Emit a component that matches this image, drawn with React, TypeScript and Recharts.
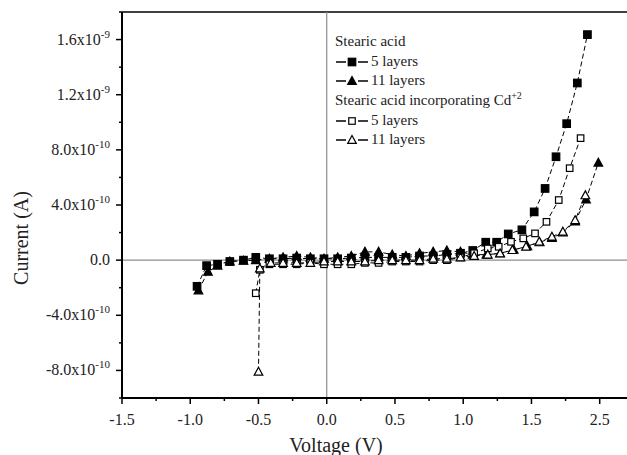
import { LineChart, Line, XAxis, YAxis, ReferenceLine, Legend } from 'recharts';

// current values are in units of 1e-10 A
const stearic5Voltage = [-0.95, -0.88, -0.8, -0.71, -0.61, -0.52, -0.42, -0.32, -0.22, -0.12, -0.02, 0.08, 0.18, 0.28, 0.38, 0.48, 0.58, 0.68, 0.78, 0.88, 0.98, 1.07, 1.165, 1.245, 1.33, 1.43, 1.52, 1.6, 1.68, 1.758, 1.836, 1.91];
const stearic5Current = [-1.9, -0.4, -0.3, -0.1, 0.0, 0.2, 0.1, 0.1, 0.15, 0.1, 0.1, 0.1, 0.15, 0.2, 0.2, 0.2, 0.2, 0.3, 0.3, 0.4, 0.5, 0.7, 1.3, 1.3, 1.9, 2.2, 3.5, 5.2, 7.5, 9.9, 12.85, 16.36];

const stearic11Voltage = [-0.94, -0.87, -0.8, -0.71, -0.61, -0.52, -0.42, -0.32, -0.22, -0.12, -0.02, 0.08, 0.18, 0.28, 0.38, 0.48, 0.58, 0.68, 0.78, 0.88, 0.98, 1.07, 1.17, 1.27, 1.37, 1.47, 1.56, 1.65, 1.73, 1.82, 1.9, 1.99];
const stearic11Current = [-2.2, -0.85, -0.4, -0.1, -0.05, 0.0, 0.1, 0.2, 0.3, 0.2, 0.1, 0.2, 0.3, 0.6, 0.6, 0.4, 0.3, 0.5, 0.6, 0.7, 0.6, 0.4, 0.4, 0.5, 0.75, 1.0, 1.3, 1.6, 2.0, 2.8, 4.4, 7.07];

const cd5Voltage = [-0.52, -0.49, -0.42, -0.32, -0.22, -0.12, -0.02, 0.08, 0.18, 0.28, 0.38, 0.48, 0.58, 0.68, 0.78, 0.88, 0.98, 1.08, 1.18, 1.26, 1.35, 1.44, 1.526, 1.61, 1.7, 1.78, 1.86];
const cd5Current = [-2.4, -0.7, -0.3, -0.3, -0.3, -0.2, -0.3, -0.3, -0.3, -0.2, -0.2, -0.1, -0.1, -0.1, 0.0, 0.0, 0.2, 0.5, 0.85, 0.97, 1.33, 1.58, 1.94, 2.78, 4.36, 6.67, 8.85];

const cd11Voltage = [-0.5, -0.49, -0.41, -0.32, -0.22, -0.12, -0.02, 0.08, 0.18, 0.28, 0.38, 0.48, 0.58, 0.68, 0.78, 0.88, 0.98, 1.08, 1.18, 1.27, 1.36, 1.46, 1.557, 1.65, 1.73, 1.82, 1.895];
const cd11Current = [-8.1, -0.6, -0.2, -0.2, -0.2, -0.2, -0.1, -0.1, -0.1, -0.1, 0.0, 0.0, 0.0, 0.0, 0.1, 0.1, 0.2, 0.3, 0.4, 0.49, 0.73, 0.97, 1.33, 1.7, 2.06, 2.9, 4.7];

const xTicks = [-1.5, -1.25, -1, -0.75, -0.5, -0.25, 0, 0.25, 0.5, 0.75, 1, 1.25, 1.5, 1.75, 2];
const xTickLabels: Record<string, string> = {
  '-1.5': '-1.5', '-1': '-1.0', '-0.5': '-0.5', '0': '0.0', '0.5': '0.5', '1': '1.0', '1.5': '1.5', '2': '2.5',
};

const yTicks = [-10, -8, -6, -4, -2, 0, 2, 4, 6, 8, 10, 12, 14, 16, 18];
const yTickLabels: Record<string, [string, string]> = {
  '-8': ['-8.0x10', '-10'],
  '-4': ['-4.0x10', '-10'],
  '0': ['0.0', ''],
  '4': ['4.0x10', '-10'],
  '8': ['8.0x10', '-10'],
  '12': ['1.2x10', '-9'],
  '16': ['1.6x10', '-9'],
};

const zip = (v: number[], c: number[]) => v.map((x, i) => ({ v: x, i: c[i] }));

const FONT = '"Liberation Serif", "Times New Roman", serif';

const marker = (shape: 'square' | 'triangle', filled: boolean, cx: number, cy: number, key?: any) => {
  const fill = filled ? '#000' : '#fff';
  if (shape === 'square') {
    const s = filled ? 7.5 : 6.5;
    return <rect key={key} x={cx - s / 2} y={cy - s / 2} width={s} height={s} fill={fill} stroke="#000" strokeWidth={1.2} />;
  }
  return (
    <polygon
      key={key}
      points={`${cx},${cy - 4.5} ${cx + 4.3},${cy + 3.4} ${cx - 4.3},${cy + 3.4}`}
      fill={fill}
      stroke="#000"
      strokeWidth={1.2}
    />
  );
};

const makeDot = (shape: 'square' | 'triangle', filled: boolean) => (props: any) => {
  const { cx, cy, index } = props;
  if (cx == null || cy == null) return <g key={index} />;
  return marker(shape, filled, cx, cy, index);
};

const XTick = (props: any) => {
  const { x, y, payload } = props;
  const label = xTickLabels[String(payload.value)];
  const major = label !== undefined;
  return (
    <g>
      <line x1={x} x2={x} y1={y} y2={y + (major ? 6 : 3)} stroke="#000" strokeWidth={1.5} />
      {major && (
        <text x={x} y={y + 27} textAnchor="middle" fontFamily={FONT} fontSize={16} fill="#222">
          {label}
        </text>
      )}
    </g>
  );
};

const YTick = (props: any) => {
  const { x, y, payload } = props;
  const label = yTickLabels[String(payload.value)];
  const major = label !== undefined;
  return (
    <g>
      <line x1={x - (major ? 6 : 3)} x2={x} y1={y} y2={y} stroke="#000" strokeWidth={1.5} />
      {major && (
        <text x={x - 12} y={y + 5} textAnchor="end" fontFamily={FONT} fontSize={16} fill="#222">
          {label[0]}
          {label[1] && (
            <tspan dy={-7} fontSize={11}>
              {label[1]}
            </tspan>
          )}
        </text>
      )}
    </g>
  );
};

const LegendSample = ({ shape, filled }: { shape: 'square' | 'triangle'; filled: boolean }) => (
  <svg width={34} height={14} style={{ display: 'block' }}>
    <line x1={1} x2={11} y1={7} y2={7} stroke="#000" strokeWidth={1.5} />
    <line x1={23} x2={33} y1={7} y2={7} stroke="#000" strokeWidth={1.5} />
    {marker(shape, filled, 17, 7)}
  </svg>
);

const legendRow: React.CSSProperties = { height: 19.7, display: 'flex', alignItems: 'center', whiteSpace: 'nowrap' };

const renderLegend = () => (
  <div style={{ fontFamily: FONT, fontSize: 15, color: '#222', lineHeight: '19.7px', textAlign: 'left' }}>
    <div style={legendRow}>Stearic acid</div>
    <div style={legendRow}>
      <LegendSample shape="square" filled />
      <span style={{ marginLeft: 2 }}>5 layers</span>
    </div>
    <div style={legendRow}>
      <LegendSample shape="triangle" filled />
      <span style={{ marginLeft: 2 }}>11 layers</span>
    </div>
    <div style={legendRow}>
      <span>
        Stearic acid incorporating Cd<sup style={{ fontSize: 10, verticalAlign: 6, lineHeight: 0 }}>+2</sup>
      </span>
    </div>
    <div style={legendRow}>
      <LegendSample shape="square" filled={false} />
      <span style={{ marginLeft: 2 }}>5 layers</span>
    </div>
    <div style={legendRow}>
      <LegendSample shape="triangle" filled={false} />
      <span style={{ marginLeft: 2 }}>11 layers</span>
    </div>
  </div>
);

export default function App() {
  const dash = '5 3';
  return (
    <div style={{ position: 'absolute', left: 0, top: 0, width: 627, height: 455, background: '#fff', overflow: 'hidden' }}>
      <LineChart width={627} height={455} margin={{ top: 12, right: 0, bottom: 0, left: 0 }}>
        <XAxis
          type="number"
          dataKey="v"
          domain={[-1.5, 2.2]}
          ticks={xTicks}
          interval={0}
          allowDataOverflow
          height={57}
          tickSize={0}
          tickMargin={0}
          tickLine={false}
          axisLine={{ stroke: '#000', strokeWidth: 2 }}
          tick={<XTick />}
        />
        <YAxis
          type="number"
          domain={[-10, 18]}
          ticks={yTicks}
          interval={0}
          allowDataOverflow
          width={122}
          tickSize={0}
          tickMargin={0}
          tickLine={false}
          axisLine={{ stroke: '#000', strokeWidth: 2 }}
          tick={<YTick />}
        />
        <ReferenceLine y={18} stroke="#000" strokeWidth={1.5} />
        <ReferenceLine x={0} stroke="#8c8c8c" strokeWidth={1.2} />
        <ReferenceLine y={0} stroke="#8c8c8c" strokeWidth={1.2} />
        <Legend
          layout="horizontal"
          verticalAlign="middle"
          align="center"
          content={renderLegend}
          wrapperStyle={{ left: 335, top: 32, width: 270, height: 120 }}
        />
        <Line
          data={zip(stearic5Voltage, stearic5Current)}
          dataKey="i"
          stroke="#000"
          strokeWidth={1}
          strokeDasharray={dash}
          dot={makeDot('square', true)}
          isAnimationActive={false}
        />
        <Line
          data={zip(stearic11Voltage, stearic11Current)}
          dataKey="i"
          stroke="#000"
          strokeWidth={1}
          strokeDasharray={dash}
          dot={makeDot('triangle', true)}
          isAnimationActive={false}
        />
        <Line
          data={zip(cd5Voltage, cd5Current)}
          dataKey="i"
          stroke="#000"
          strokeWidth={1}
          strokeDasharray={dash}
          dot={makeDot('square', false)}
          isAnimationActive={false}
        />
        <Line
          data={zip(cd11Voltage, cd11Current)}
          dataKey="i"
          stroke="#000"
          strokeWidth={1}
          strokeDasharray={dash}
          dot={makeDot('triangle', false)}
          isAnimationActive={false}
        />
        <text x={21} y={238} transform="rotate(-90 21 238)" textAnchor="middle" dominantBaseline="central" fontFamily={FONT} fontSize={20} fill="#222">
          Current (A)
        </text>
        <text x={336} y={452} textAnchor="middle" fontFamily={FONT} fontSize={20} fill="#222">
          Voltage (V)
        </text>
      </LineChart>
    </div>
  );
}
